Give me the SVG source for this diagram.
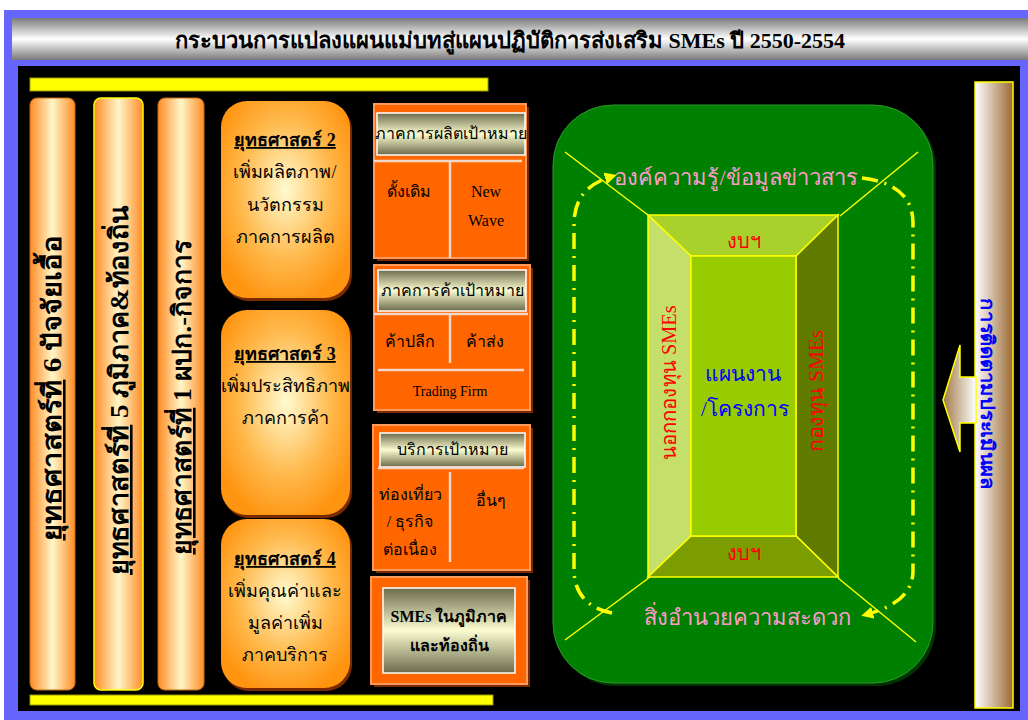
<svg xmlns="http://www.w3.org/2000/svg" width="1028" height="720" viewBox="0 0 1028 720">
<defs>
<linearGradient id="gTitle" x1="0" y1="0" x2="0" y2="1"><stop offset="0" stop-color="#7a7a7a"/><stop offset="0.5" stop-color="#ffffff"/><stop offset="1" stop-color="#7a7a7a"/></linearGradient>
<linearGradient id="gCol" x1="0" y1="0" x2="1" y2="0"><stop offset="0" stop-color="#ff8c26"/><stop offset="0.5" stop-color="#fff6c8"/><stop offset="1" stop-color="#ff8c26"/></linearGradient>
<radialGradient id="gStrat" cx="0.5" cy="0.45" r="0.6"><stop offset="0" stop-color="#fffbd0"/><stop offset="0.6" stop-color="#ffb84a"/><stop offset="1" stop-color="#ff9410"/></radialGradient>
<linearGradient id="gHead" x1="0" y1="0" x2="0" y2="1"><stop offset="0" stop-color="#6b6b4c"/><stop offset="0.5" stop-color="#fcfcd0"/><stop offset="1" stop-color="#6b6b4c"/></linearGradient>
<linearGradient id="gRight" x1="0" y1="0" x2="1" y2="0"><stop offset="0" stop-color="#ffffff"/><stop offset="1" stop-color="#9b6a35"/></linearGradient>
<linearGradient id="gArrow" x1="0" y1="0" x2="1" y2="0"><stop offset="0" stop-color="#a07845"/><stop offset="1" stop-color="#ffffff"/></linearGradient>
<marker id="ah" markerWidth="12" markerHeight="12" refX="5" refY="6" orient="auto" markerUnits="userSpaceOnUse" viewBox="0 0 12 12"><path d="M0,0 L12,6 L0,12 Z" fill="#ffff00"/></marker>
</defs>
<style>
.th{font-family:"Liberation Serif","Noto Serif","DejaVu Serif",serif;}
.col{font-size:26px;font-weight:bold;fill:#000;}
.st{font-size:18px;fill:#000;text-anchor:middle;}
.stt{font-size:18px;fill:#000;text-anchor:middle;font-weight:bold;text-decoration:underline;}
.mb{font-size:16px;fill:#000;text-anchor:middle;}
.box{fill:#ff6600;stroke:#ff9a5a;stroke-width:2;}
.shadow{fill:#7a2a00;}
.head{fill:url(#gHead);stroke:#ffffff;stroke-width:1.5;}
.div{stroke:#f2d8c8;stroke-width:2.5;}
.fr{stroke:#ffff00;stroke-width:1.5;}
.pink{font-size:22px;fill:#ff9ccc;text-anchor:middle;}
.red{font-size:20px;fill:#ff0000;text-anchor:middle;}
</style>
<rect x="0" y="0" width="1028" height="720" fill="#ffffff"/>
<rect x="4" y="10" width="1024" height="710" fill="#6666ff"/>
<rect x="12" y="18" width="1016" height="42" fill="url(#gTitle)"/>
<text class="th" x="510" y="48" font-size="22" font-weight="bold" text-anchor="middle" fill="#000">กระบวนการแปลงแผนแม่บทสู่แผนปฏิบัติการส่งเสริม SMEs ปี 2550-2554</text>
<rect x="18" y="66" width="1002" height="645" fill="#000000"/>
<rect x="30" y="78" width="458" height="13" fill="#ffff00" stroke="#999900" stroke-width="1"/>
<rect x="30" y="695" width="463" height="10" fill="#ffff00" stroke="#999900" stroke-width="1"/>

<g id="col6">
<rect x="30" y="98" width="45" height="592" rx="7" fill="url(#gCol)" stroke="#c86a10" stroke-width="1"/>
<text class="th col" transform="translate(61,388) rotate(-90)" text-anchor="middle" textLength="305" lengthAdjust="spacingAndGlyphs"><tspan text-decoration="underline">ยุทธศาสตร์ที่</tspan> 6 ปัจจัยเอื้อ</text>
</g>
<g id="col5">
<rect x="94" y="98" width="49" height="592" rx="7" fill="url(#gCol)" stroke="#ffff00" stroke-width="1.5"/>
<text class="th col" transform="translate(128,390) rotate(-90)" text-anchor="middle" textLength="370" lengthAdjust="spacingAndGlyphs"><tspan text-decoration="underline">ยุทธศาสตร์ที่</tspan> 5 ภูมิภาค&amp;ท้องถิ่น</text>
</g>
<g id="col1">
<rect x="158" y="98" width="46" height="592" rx="7" fill="url(#gCol)" stroke="#c86a10" stroke-width="1"/>
<text class="th col" transform="translate(191,397) rotate(-90)" text-anchor="middle" textLength="315" lengthAdjust="spacingAndGlyphs"><tspan text-decoration="underline">ยุทธศาสตร์ที่</tspan> 1 ผปก.-กิจการ</text>
</g>

<g id="strat2">
<rect x="223" y="104" width="129" height="197" rx="26" class="shadow"/>
<rect x="221" y="101" width="129" height="197" rx="26" fill="url(#gStrat)"/>
<text class="th stt" x="285" y="146">ยุทธศาสตร์ 2</text>
<text class="th st" x="285" y="178">เพิ่มผลิตภาพ/</text>
<text class="th st" x="285" y="211">นวัตกรรม</text>
<text class="th st" x="285" y="243">ภาคการผลิต</text>
</g>
<g id="strat3">
<rect x="223" y="313" width="129" height="205" rx="26" class="shadow"/>
<rect x="221" y="310" width="129" height="205" rx="26" fill="url(#gStrat)"/>
<text class="th stt" x="285" y="360">ยุทธศาสตร์ 3</text>
<text class="th st" x="285" y="392">เพิ่มประสิทธิภาพ</text>
<text class="th st" x="285" y="424">ภาคการค้า</text>
</g>
<g id="strat4">
<rect x="223" y="522" width="129" height="169" rx="26" class="shadow"/>
<rect x="221" y="519" width="129" height="169" rx="26" fill="url(#gStrat)"/>
<text class="th stt" x="285" y="565">ยุทธศาสตร์ 4</text>
<text class="th st" x="285" y="597">เพิ่มคุณค่าและ</text>
<text class="th st" x="285" y="629">มูลค่าเพิ่ม</text>
<text class="th st" x="285" y="661">ภาคบริการ</text>
</g>

<g id="prod">
<rect x="377" y="107" width="152" height="154" class="shadow"/>
<rect x="374" y="104" width="152" height="154" class="box"/>
<rect x="377" y="113" width="148" height="42" class="head"/>
<text class="th mb" x="451" y="139">ภาคการผลิตเป้าหมาย</text>
<line x1="374" y1="161" x2="522" y2="161" class="div"/>
<line x1="450" y1="162" x2="450" y2="258" class="div"/>
<text class="th mb" x="409" y="197">ดั้งเดิม</text>
<text class="th mb" x="486" y="197">New</text>
<text class="th mb" x="486" y="226">Wave</text>
</g>
<g id="trade">
<rect x="377" y="268" width="156" height="145" class="shadow"/>
<rect x="374" y="265" width="156" height="145" class="box"/>
<rect x="378" y="270" width="148" height="41" class="head"/>
<text class="th mb" x="452" y="296">ภาคการค้าเป้าหมาย</text>
<line x1="374" y1="314" x2="528" y2="314" class="div"/>
<line x1="450" y1="315" x2="450" y2="363" class="div"/>
<line x1="378" y1="370" x2="524" y2="370" class="div"/>
<text class="th mb" x="410" y="347">ค้าปลีก</text>
<text class="th mb" x="485" y="347">ค้าส่ง</text>
<text class="th" x="450" y="396" font-size="14" text-anchor="middle" fill="#000">Trading Firm</text>
</g>
<g id="serv">
<rect x="376" y="428" width="157" height="145" class="shadow"/>
<rect x="373" y="425" width="157" height="145" class="box"/>
<rect x="380" y="433" width="145" height="34" class="head"/>
<text class="th mb" x="452" y="455">บริการเป้าหมาย</text>
<line x1="378" y1="468" x2="524" y2="468" class="div"/>
<line x1="450" y1="472" x2="450" y2="562" class="div"/>
<text class="th mb" x="410" y="500">ท่องเที่ยว</text>
<text class="th mb" x="410" y="527">/ ธุรกิจ</text>
<text class="th mb" x="410" y="555">ต่อเนื่อง</text>
<text class="th mb" x="491" y="506">อื่นๆ</text>
</g>
<g id="sme">
<rect x="374" y="580" width="156" height="107" class="shadow"/>
<rect x="371" y="577" width="156" height="107" class="box"/>
<rect x="383" y="588" width="132" height="85" class="head"/>
<text class="th mb" x="449" y="622" font-weight="bold">SMEs ในภูมิภาค</text>
<text class="th mb" x="449" y="651" font-weight="bold">และท้องถิ่น</text>
</g>

<g id="green">
<rect x="556" y="108" width="380" height="578" rx="60" fill="#003300"/>
<rect x="553" y="105" width="380" height="578" rx="60" fill="#008000" stroke="#2a9a2a" stroke-width="1"/>
</g>
<g id="connectors">
<line x1="565" y1="152" x2="648" y2="215" class="fr"/>
<line x1="918" y1="152" x2="840" y2="216" class="fr"/>
<line x1="565" y1="640" x2="650" y2="577" class="fr"/>
<line x1="916" y1="642" x2="838" y2="578" class="fr"/>
<path d="M612,613 Q576,606 574,572 L574,222 Q575,188 610,177" fill="none" stroke="#ffff00" stroke-width="3.5" stroke-dasharray="16,7,2,7" marker-end="url(#ah)"/>
<path d="M862,178 Q912,184 913,222 L913,572 Q912,602 868,614" fill="none" stroke="#ffff00" stroke-width="3.5" stroke-dasharray="16,7,2,7" marker-end="url(#ah)"/>
</g>
<g id="frustum">
<polygon points="648,215 838,215 796,256 691,256" fill="#a8d12c" class="fr"/>
<polygon points="648,215 691,256 691,536 648,577" fill="#c4e06a" class="fr"/>
<polygon points="838,215 838,577 796,536 796,256" fill="#607b00" class="fr"/>
<polygon points="648,577 691,536 796,536 838,577" fill="#7b9d00" class="fr"/>
<rect x="691" y="256" width="105" height="280" fill="#99cc00" class="fr"/>
<text class="th red" x="744" y="248">งบฯ</text>
<text class="th red" x="744" y="560">งบฯ</text>
<text class="th" x="743" y="381" font-size="21" fill="#0000ff" text-anchor="middle">แผนงาน</text>
<text class="th" x="745" y="416" font-size="21" fill="#0000ff" text-anchor="middle">/โครงการ</text>
<text class="th red" transform="translate(676,383) rotate(-90)" textLength="155" lengthAdjust="spacingAndGlyphs">นอกกองทุน SMEs</text>
<text class="th red" transform="translate(823,391) rotate(-90)" textLength="122" lengthAdjust="spacingAndGlyphs">กองทุน SMEs</text>
</g>
<g id="labels">
<text class="th pink" x="736" y="185">องค์ความรู้/ข้อมูลข่าวสาร</text>
<text class="th pink" x="747" y="625">สิ่งอำนวยความสะดวก</text>
</g>

<g id="eval">
<rect x="975" y="82" width="38" height="626" fill="url(#gRight)" stroke="#ffff00" stroke-width="1.5"/>
<polygon points="943,400 960,345 960,377 976,377 976,423 960,423 960,452" fill="url(#gArrow)" stroke="#ffff00" stroke-width="1.5"/>
<text class="th" transform="translate(981,394) rotate(90)" font-size="19" font-weight="bold" fill="#0000ff" text-anchor="middle" textLength="192" lengthAdjust="spacingAndGlyphs">การติดตามประเมินผล</text>
</g>
</svg>
